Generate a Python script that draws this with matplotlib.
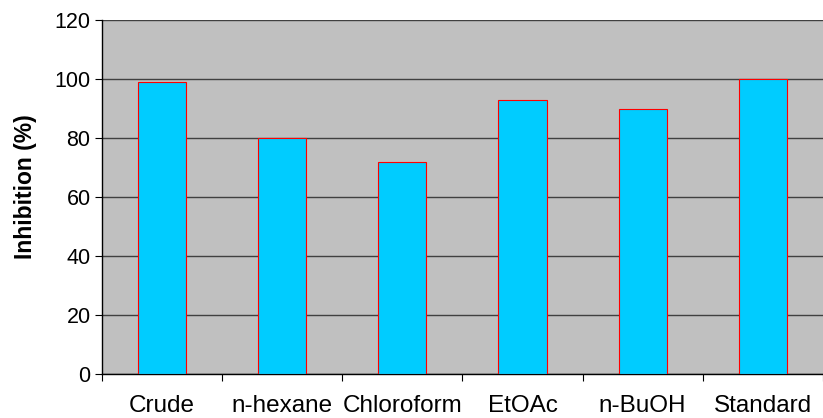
import numpy as np
import matplotlib
matplotlib.use('Agg')
from matplotlib import pyplot as plt

# inhibicion por fraccion de extracto
fracciones = ['Crude', 'n-hexane', 'Chloroform', 'EtOAc', 'n-BuOH', 'Standard']
inhibicion = [99, 80, 72, 93, 90, 100]
yticks = [0, 20, 40, 60, 80, 100, 120]

plt.rcParams['font.family'] = ['Liberation Sans', 'DejaVu Sans']

fig = plt.figure(figsize=(8.23, 4.18), dpi=100)
ax = fig.add_axes([0.1236, 0.1045, 0.8764, 0.8475])
ax.set_facecolor('#c0c0c0')

x = np.arange(len(fracciones))
ax.bar(x, inhibicion, width=0.4, color='#00ccff', edgecolor='red', linewidth=0.8, zorder=3)

ax.set_xlim(-0.5, len(fracciones) - 0.5)
ax.set_ylim(0, 120)
ax.set_yticks(yticks)
ax.set_xticks(x)
ax.set_xticklabels(fracciones, fontsize=17.5)
ax.set_xticks(np.arange(len(fracciones) + 1) - 0.5, minor=True)
ax.tick_params(axis='x', which='major', length=0, pad=15)
ax.tick_params(axis='x', which='minor', length=5, width=0.8, direction='out')
ax.tick_params(axis='y', length=5, width=0.8, labelsize=15.5, pad=3)

ax.yaxis.grid(True, color='#404040', linewidth=1.0, zorder=1)
ax.set_axisbelow(True)
for lado in ['top', 'right']:
    ax.spines[lado].set_visible(False)
ax.spines['left'].set_linewidth(1.0)
ax.spines['bottom'].set_linewidth(1.0)

ax.set_ylabel('Inhibition (%)', fontsize=16.5, fontweight='bold')
ax.yaxis.set_label_coords(-0.09, 0.53)

fig.savefig('out.png', dpi=100)
